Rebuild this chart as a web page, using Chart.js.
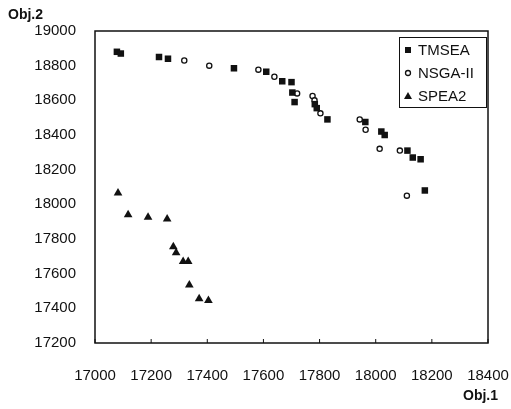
<!DOCTYPE html>
<html>
<head>
<meta charset="utf-8">
<script src="https://cdn.jsdelivr.net/npm/chart.js"></script>
<style>
  body { margin: 0; background: #fff; }
  #wrap { width: 511px; height: 409px; }
</style>
</head>
<body>
<div id="wrap"><canvas id="paretoChart" width="511" height="409"></canvas></div>
<script>
const seriesNames = ["TMSEA", "NSGA-II", "SPEA2"];

const tmseaX = [17078, 17092, 17228, 17260, 17495, 17610, 17667, 17700, 17703, 17711,
  17783, 17790, 17828, 17963, 18020, 18032, 18113, 18132, 18160, 18175];
const tmseaY = [18880, 18870, 18850, 18840, 18785, 18765, 18710, 18705, 18645, 18590,
  18578, 18555, 18490, 18475, 18420, 18400, 18310, 18270, 18260, 18080];

const nsgaX = [17318, 17407, 17582, 17639, 17720, 17775, 17782, 17803, 17943, 17964,
  18014, 18086, 18111];
const nsgaY = [18830, 18800, 18777, 18736, 18640, 18625, 18600, 18525, 18490, 18430,
  18320, 18310, 18050];

const speaX = [17082, 17118, 17189, 17257, 17279, 17289, 17314, 17332, 17336, 17371, 17404];
const speaY = [18065, 17940, 17925, 17915, 17755, 17720, 17670, 17670, 17535, 17455, 17445];

const xTicks = [17000, 17200, 17400, 17600, 17800, 18000, 18200, 18400];
const yTicks = [17200, 17400, 17600, 17800, 18000, 18200, 18400, 18600, 18800, 19000];

function pts(xs, ys) {
  return xs.map((x, i) => ({ x: x, y: ys[i] }));
}

const font = "Liberation Sans, Arial, sans-serif";

// frame, legend box and axis titles
const decorations = {
  id: "decorations",
  afterDraw(chart) {
    const ctx = chart.ctx;
    const a = chart.chartArea;
    ctx.save();
    ctx.strokeStyle = "#111";
    ctx.lineWidth = 1.5;
    ctx.strokeRect(a.left, a.top, a.right - a.left, a.bottom - a.top);

    // small inward ticks on x axis
    const xs = chart.scales.x;
    ctx.lineWidth = 1;
    xTicks.forEach(v => {
      const px = xs.getPixelForValue(v);
      ctx.beginPath();
      ctx.moveTo(px, a.bottom);
      ctx.lineTo(px, a.bottom - 4);
      ctx.stroke();
    });

    // legend
    const lx = 399, ly = 37, lw = 87, lh = 70;
    ctx.fillStyle = "#fff";
    ctx.fillRect(lx, ly, lw, lh);
    ctx.lineWidth = 1;
    ctx.strokeRect(lx + 0.5, ly + 0.5, lw, lh);
    ctx.font = "15px " + font;
    ctx.textBaseline = "middle";
    const rows = [50, 73, 96];
    rows.forEach((ry, i) => {
      const mx = 408;
      ctx.fillStyle = "#111";
      ctx.beginPath();
      if (i === 0) {
        ctx.rect(mx - 3, ry - 3, 6, 6);
        ctx.fill();
      } else if (i === 1) {
        ctx.arc(mx, ry, 2.5, 0, Math.PI * 2);
        ctx.lineWidth = 1.3;
        ctx.stroke();
      } else {
        ctx.moveTo(mx, ry - 4);
        ctx.lineTo(mx + 4, ry + 3);
        ctx.lineTo(mx - 4, ry + 3);
        ctx.closePath();
        ctx.fill();
      }
      ctx.fillText(seriesNames[i], 418, ry + 1);
    });

    // axis titles
    ctx.font = "bold 14px " + font;
    ctx.textAlign = "left";
    ctx.fillText("Obj.2", 8, 15);
    ctx.fillText("Obj.1", 463, 396);
    ctx.restore();
  }
};

new Chart(document.getElementById("paretoChart"), {
  type: "scatter",
  data: {
    datasets: [
      {
        label: seriesNames[0],
        data: pts(tmseaX, tmseaY),
        pointStyle: "rect",
        pointRadius: 4.6,
        backgroundColor: "#111",
        borderColor: "#111",
        borderWidth: 0,
      },
      {
        label: seriesNames[1],
        data: pts(nsgaX, nsgaY),
        pointStyle: "circle",
        pointRadius: 2.6,
        backgroundColor: "#fff",
        borderColor: "#111",
        borderWidth: 1.3,
      },
      {
        label: seriesNames[2],
        data: pts(speaX, speaY),
        pointStyle: "triangle",
        pointRadius: 5,
        backgroundColor: "#111",
        borderColor: "#111",
        borderWidth: 0,
      },
    ],
  },
  options: {
    responsive: false,
    animation: false,
    layout: { padding: { left: 0, top: 31, right: 23, bottom: 0 } },
    plugins: {
      legend: { display: false },
      tooltip: { enabled: false },
    },
    scales: {
      x: {
        type: "linear",
        min: 17000,
        max: 18400,
        afterBuildTicks: s => { s.ticks = xTicks.map(v => ({ value: v })); },
        afterFit: s => { s.height = 66; s.paddingRight = 0; s.paddingLeft = 0; },
        grid: { display: false },
        border: { display: false },
        ticks: {
          padding: 16,
          color: "#111",
          font: { family: font, size: 15 },
          callback: v => String(v),
          maxRotation: 0,
          autoSkip: false,
        },
      },
      y: {
        type: "linear",
        min: 17200,
        max: 19000,
        afterBuildTicks: s => { s.ticks = yTicks.map(v => ({ value: v })); },
        afterFit: s => { s.width = 95; s.paddingTop = 0; s.paddingBottom = 0; },
        grid: { display: false },
        border: { display: false },
        ticks: {
          padding: 11,
          color: "#111",
          font: { family: font, size: 15 },
          callback: v => String(v),
          autoSkip: false,
        },
      },
    },
  },
  plugins: [decorations],
});
</script>
</body>
</html>
